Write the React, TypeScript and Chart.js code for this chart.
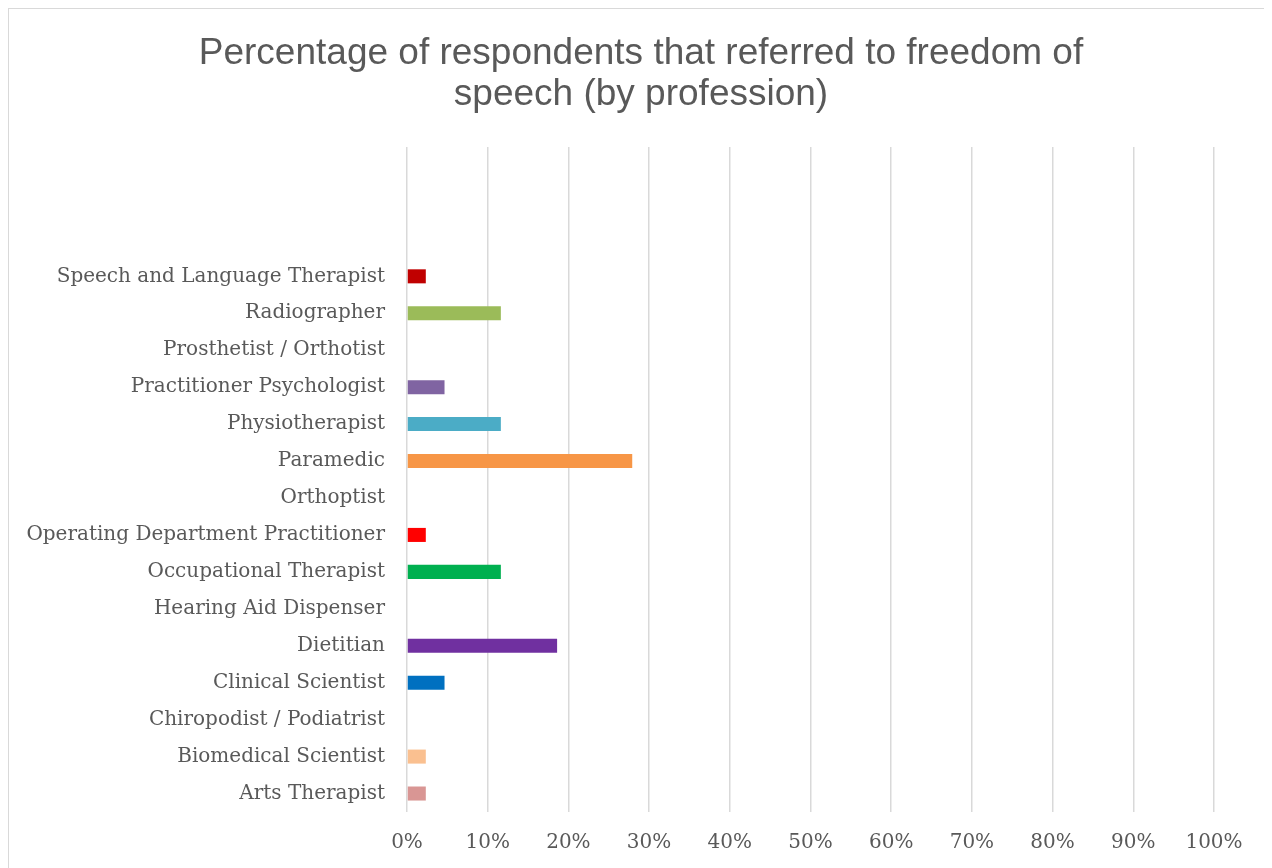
import React, { useEffect, useRef } from "react";
import { Chart, registerables } from "chart.js";

Chart.register(...registerables);

const titleLines = [
  "Percentage of respondents that referred to freedom of",
  "speech (by profession)",
];

const professions = [
  "",
  "",
  "",
  "Speech and Language Therapist",
  "Radiographer",
  "Prosthetist / Orthotist",
  "Practitioner Psychologist",
  "Physiotherapist",
  "Paramedic",
  "Orthoptist",
  "Operating Department Practitioner",
  "Occupational Therapist",
  "Hearing Aid Dispenser",
  "Dietitian",
  "Clinical Scientist",
  "Chiropodist / Podiatrist",
  "Biomedical Scientist",
  "Arts Therapist",
];

const percentages = [
  null, null, null,
  2.33, 11.63, 0, 4.65, 11.63, 27.91, 0, 2.33, 11.63, 0, 18.6, 4.65, 0, 2.33, 2.33,
];

const barColors = [
  "#ffffff", "#ffffff", "#ffffff",
  "#c00000", "#9bbb59", "#4f81bd", "#8064a2", "#4bacc6", "#f79646", "#2c4d75",
  "#ff0000", "#00b050", "#ffc000", "#7030a0", "#0070c0", "#7f7f7f", "#fac090", "#d99694",
];

const xTickValues = [0, 10, 20, 30, 40, 50, 60, 70, 80, 90, 100];

export default function App() {
  const ref = useRef<HTMLCanvasElement | null>(null);

  useEffect(() => {
    if (!ref.current) return;
    const serif = "'DejaVu Serif', serif";
    const chart = new Chart(ref.current, {
      type: "bar",
      data: {
        labels: professions,
        datasets: [
          {
            data: percentages as any,
            backgroundColor: barColors,
            barPercentage: 0.38,
            categoryPercentage: 1,
          },
        ],
      },
      options: {
        indexAxis: "y",
        animation: false,
        responsive: false,
        maintainAspectRatio: false,
        layout: { padding: { top: 25, right: 0, left: 0, bottom: 13 } },
        plugins: {
          legend: { display: false },
          tooltip: { enabled: false },
          title: {
            display: true,
            text: titleLines,
            color: "#595959",
            font: { family: "'Liberation Sans', Arial, sans-serif", size: 37, weight: "normal", lineHeight: 1.095 },
            padding: { top: 0, bottom: 32 },
          },
        },
        scales: {
          x: {
            min: 0,
            max: 100,
            afterBuildTicks: (scale: any) => {
              scale.ticks = xTickValues.map((v) => ({ value: v }));
            },
            afterFit: (scale: any) => {
              scale.paddingRight = 59;
            },
            ticks: {
              callback: (v: any) => v + "%",
              color: "#595959",
              font: { family: serif, size: 20 },
              padding: 19,
              maxRotation: 0,
            },
            grid: { color: "#d9d9d9", lineWidth: 1.5, drawTicks: false },
            border: { display: false },
          },
          y: {
            afterFit: (scale: any) => {
              scale.width = 398;
            },
            ticks: {
              color: "#595959",
              font: { family: serif, size: 20 },
              padding: 22,
              autoSkip: false,
            },
            grid: { display: false, drawTicks: false },
            border: { display: false },
          },
        },
      },
    });
    return () => chart.destroy();
  }, []);

  return (
    <div style={{ width: 1266, height: 880, border: "1px solid #d9d9d9", background: "#fff" }}>
      <canvas ref={ref} width={1264} height={878} style={{ display: "block" }} />
    </div>
  );
}
